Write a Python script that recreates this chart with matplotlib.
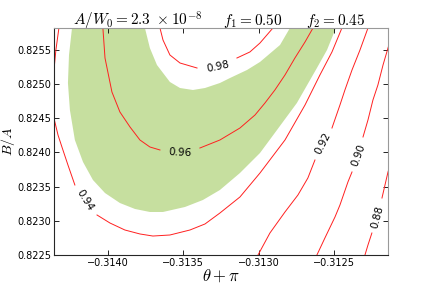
import numpy as np
import matplotlib
matplotlib.use("Agg")
import matplotlib.pyplot as plt

plt.rcParams['mathtext.fontset'] = 'cm'
plt.rcParams['font.family'] = 'DejaVu Sans'

# axis ticks
xticks = [-0.3140, -0.3135, -0.3130, -0.3125]
xtick_labels = ['\u22120.3140', '\u22120.3135', '\u22120.3130', '\u22120.3125']
yticks = [0.8225, 0.8230, 0.8235, 0.8240, 0.8245, 0.8250, 0.8255]
ytick_labels = ['0.8225', '0.8230', '0.8235', '0.8240', '0.8245', '0.8250', '0.8255']

# title pieces
title_parts = [r'$A/W_0 = 2.3\ \times10^{-8}$', r'$f_1 = 0.50$', r'$f_2 = 0.45$']

# contour 0.98 (two pieces, gap for label)
c98a_x = [-0.313655, -0.313635, -0.313589, -0.313522, -0.313409]
c98a_y = [0.825814, 0.825639, 0.825420, 0.825303, 0.825230]
c98b_x = [-0.313144, -0.313058, -0.312991, -0.312905]
c98b_y = [0.825376, 0.825464, 0.825595, 0.825814]

# contour 0.96
c96a_x = [-0.314034, -0.314020, -0.313974, -0.313921, -0.313854, -0.313788, -0.313722, -0.313655]
c96a_y = [0.825814, 0.825376, 0.824880, 0.824588, 0.824369, 0.824179, 0.824077, 0.824033]
c96b_x = [-0.313390, -0.313257, -0.313124, -0.313024, -0.312958, -0.312892, -0.312825,
          -0.312759, -0.312692, -0.312639]
c96b_y = [0.824062, 0.824179, 0.824354, 0.824544, 0.824719, 0.824909, 0.825128,
          0.825376, 0.825610, 0.825814]

# contour 0.94
c94a_x = [-0.314326, -0.314346, -0.314362, -0.314366, -0.314356, -0.314332, -0.314306,
          -0.314266, -0.314220]
c94a_y = [0.825814, 0.825493, 0.825128, 0.824763, 0.824471, 0.824252, 0.824077,
          0.823814, 0.823522]
c94b_x = [-0.314073, -0.313987, -0.313888, -0.313788, -0.313702, -0.313589, -0.313456,
          -0.313356, -0.313257, -0.313124, -0.312991, -0.312825, -0.312692, -0.312593,
          -0.312513, -0.312447]
c94b_y = [0.823084, 0.822967, 0.822865, 0.822807, 0.822777, 0.822792, 0.822865,
          0.822953, 0.823113, 0.823347, 0.823697, 0.824179, 0.824690, 0.825128,
          0.825464, 0.825814]

# contour 0.92
c92a_x = [-0.312274, -0.312327, -0.312380, -0.312427, -0.312460, -0.312513]
c92a_y = [0.825814, 0.825493, 0.825201, 0.824909, 0.824690, 0.824354]
c92b_x = [-0.312626, -0.312673, -0.312739, -0.312825, -0.312925, -0.313004]
c92b_y = [0.823887, 0.823624, 0.823376, 0.823128, 0.822821, 0.822500]

# contour 0.90
c90a_x = [-0.312115, -0.312141, -0.312174, -0.312208, -0.312241, -0.312274, -0.312307]
c90a_y = [0.825712, 0.825522, 0.825274, 0.824982, 0.824763, 0.824471, 0.824223]
c90b_x = [-0.312380, -0.312407, -0.312460, -0.312493, -0.312560, -0.312613]
c90b_y = [0.823712, 0.823566, 0.823230, 0.823055, 0.822748, 0.822500]

# contour 0.88
c88a_x = [-0.312115, -0.312141, -0.312161, -0.312181]
c88a_y = [0.823887, 0.823712, 0.823522, 0.823332]
c88b_x = [-0.312248, -0.312274, -0.312294]
c88b_y = [0.822821, 0.822646, 0.822500]

# contour labels: text, x, y, angle
lab_text = ['0.98', '0.96', '0.94', '0.92', '0.90', '0.88']
lab_x = [-0.313270, -0.313522, -0.314153, -0.312573, -0.312340, -0.312214]
lab_y = [0.825245, 0.823989, 0.823303, 0.824135, 0.823960, 0.823055]
lab_rot = [12, -3, -58, 63, 70, 75]

# green band: outer edge then inner edge
band_out_x = [-0.314239, -0.314259, -0.314266, -0.314253, -0.314220, -0.314166, -0.314100,
              -0.314020, -0.313921, -0.313821, -0.313722, -0.313635, -0.313489, -0.313370,
              -0.313257, -0.313124, -0.312991, -0.312878, -0.312746, -0.312613, -0.312546,
              -0.312487]
band_out_y = [0.825814, 0.825420, 0.825011, 0.824617, 0.824179, 0.823858, 0.823595,
              0.823405, 0.823259, 0.823172, 0.823128, 0.823128, 0.823201, 0.823303,
              0.823449, 0.823697, 0.823989, 0.824325, 0.824719, 0.825230, 0.825493,
              0.825814]
band_in_x = [-0.312792, -0.312858, -0.312991, -0.313077, -0.313190, -0.313257, -0.313356,
             -0.313436, -0.313522, -0.313589, -0.313675, -0.313722, -0.313755]
band_in_y = [0.825814, 0.825566, 0.825318, 0.825201, 0.825084, 0.825011, 0.824938,
             0.824909, 0.824938, 0.825026, 0.825274, 0.825522, 0.825814]

fig = plt.figure(figsize=(4.31, 2.84), dpi=100)
ax = fig.add_axes([54/431, 1 - 255/284, 334/431, 227/284])

ax.fill(band_out_x + band_in_x, band_out_y + band_in_y, color='#c6df9f', lw=0, zorder=1)

red = '#ff2020'
for xs, ys in [(c98a_x, c98a_y), (c98b_x, c98b_y), (c96a_x, c96a_y), (c96b_x, c96b_y),
               (c94a_x, c94a_y), (c94b_x, c94b_y), (c92a_x, c92a_y), (c92b_x, c92b_y),
               (c90a_x, c90a_y), (c90b_x, c90b_y), (c88a_x, c88a_y), (c88b_x, c88b_y)]:
    ax.plot(xs, ys, color=red, lw=0.7, zorder=2)

for t, x, y, r in zip(lab_text, lab_x, lab_y, lab_rot):
    ax.text(x, y, t, rotation=r, fontsize=7.5, ha='center', va='center',
            rotation_mode='anchor', zorder=3)

ax.set_xlim(-0.3143586, -0.312141)
ax.set_ylim(0.8225, 0.825814)
ax.set_xticks(xticks)
ax.set_xticklabels(xtick_labels)
ax.set_yticks(yticks)
ax.set_yticklabels(ytick_labels)
ax.tick_params(direction='in', top=True, right=True, length=3.5, width=0.6,
               labelsize=7, pad=2.5)
ax.tick_params(axis='y', pad=2)
for side in ['top', 'right']:
    ax.spines[side].set_color('0.6')
for side in ['left', 'bottom']:
    ax.spines[side].set_color('0.15')
for s in ax.spines.values():
    s.set_linewidth(0.8)

ax.set_xlabel(r'$\theta+\pi$', fontsize=12, labelpad=-1)
ax.set_ylabel(r'$B/A$', fontsize=10)
ax.yaxis.set_label_coords(-0.110, 0.5)

# title, three pieces spread along the top
for t, xf in zip(title_parts, [0.251, 0.596, 0.844]):
    ax.text(xf, 1.012, t, transform=ax.transAxes, ha='center', va='baseline',
            fontsize=11)

fig.savefig('out.png', dpi=100)
